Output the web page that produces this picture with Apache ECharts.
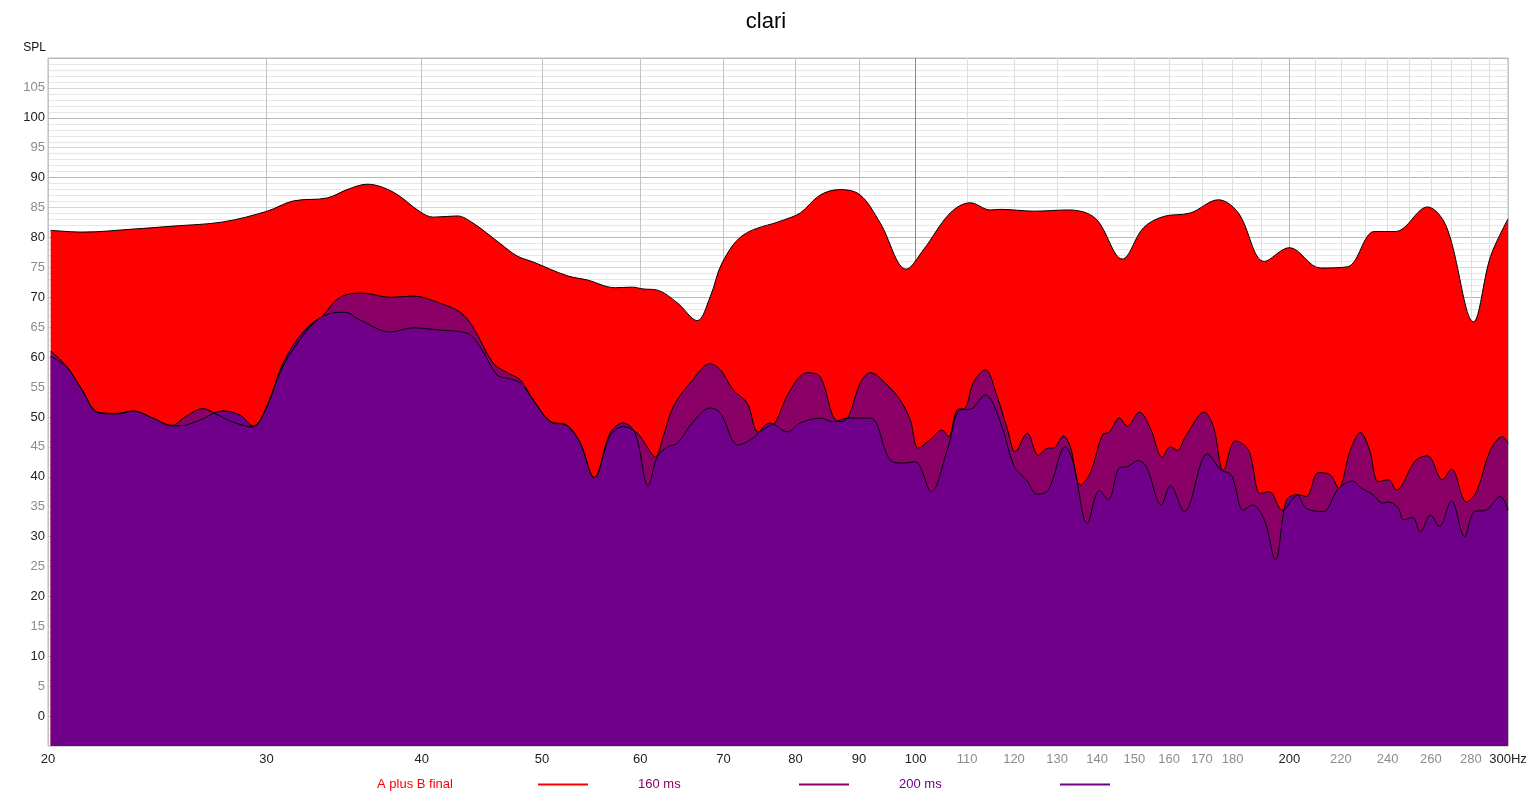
<!DOCTYPE html>
<html>
<head>
<meta charset="utf-8">
<title>clari</title>
<script src="https://cdn.jsdelivr.net/npm/echarts@6.0.0/dist/echarts.min.js"></script>
<style>
  html, body { margin: 0; padding: 0; background: #fff; }
  #chart { width: 1532px; height: 799px; }
</style>
</head>
<body>
<div id="chart"></div>
<script>
// Frequency response (Hz, dB SPL)
var abHz = [20.1, 21.34, 23.42, 25.22, 27.67, 30.03, 31.51, 33.56, 34.83, 36.15, 37.93, 39.88, 40.86, 42.72, 44.0,
	46.26, 47.75, 49.19, 52.39, 54.37, 57.27, 59.1, 60.32, 61.91, 64.25, 66.68, 68.31, 69.85, 72.62, 78.22,
	80.72, 83.77, 86.94, 90.23, 93.64, 98.27, 101.41, 106.62, 110.66, 114.84, 116.99, 124.61, 132.72, 139.54,
	146.71, 152.54, 158.3, 166.44, 175.31, 181.94, 190.93, 200, 211.84, 222.72, 234.17, 243.47, 258.37,
	267.64, 281.38, 290.4, 300];
var abSpl = [81.2, 80.9, 81.4, 81.9, 82.6, 84.4, 86.1, 86.6, 88.0, 88.9, 87.6, 84.3, 83.4, 83.6, 82.4,
	79.0, 76.9, 75.9, 73.6, 72.9, 71.6, 71.7, 71.4, 71.2, 69.1, 66.1, 70.1, 75.8, 80.4, 82.9,
	84.1, 87.1, 88.0, 87.1, 82.4, 74.7, 77.9, 84.1, 85.8, 84.6, 84.7, 84.4, 84.6, 83.2,
	76.4, 81.6, 83.5, 84.1, 86.3, 84.1, 76.0, 78.3, 74.9, 75.1, 81.0, 81.0, 85.1,
	81.8, 65.9, 76.8, 83.1];

var ms160Hz = [20.1, 20.72, 21.3, 21.94, 22.73, 23.42, 24.3, 25.17, 25.79, 26.66, 27.37, 28.14, 29.26, 29.92,
	30.93, 32.34, 33.31, 34.38, 35.88, 37.72, 39.37, 41.39, 42.96, 44.0, 45.67, 46.87, 48.01, 49.19, 50.76,
	52.39, 53.67, 55.08, 56.74, 58.12, 59.65, 60.55, 61.68, 62.6, 63.78, 65.82, 68.31, 69.59, 71.29, 73.16,
	74.67, 76.35, 77.06, 79.24, 81.78, 83.77, 85.82, 86.94, 88.24, 90.23, 91.92, 94.86, 97.18, 99.0,
	100.48, 102.74, 105.05, 106.23, 108.02, 109.63, 111.27, 113.78, 116.34, 118.52, 120.29, 123.0, 125.54,
	127.89, 129.08, 131.5, 133.21, 135.71, 138.25, 141.36, 143.21, 145.89, 148.07, 151.41, 154.53, 158.01,
	160.37, 162.47, 164.9, 170.81, 173.69, 176.94, 180.93, 185.35, 189.52, 192.71, 197.41, 203.37, 206.41,
	211.06, 215.81, 219.04, 223.97, 228.16, 232.0, 235.91, 240.33, 243.92, 252.68, 258.37, 265.66, 270.13,
	277.75, 282.96, 290.4, 296.94, 300];
var ms160Spl = [61.0, 58.4, 54.6, 50.8, 50.6, 51.0, 49.8, 48.6, 50.0, 51.4, 50.4, 49.2, 48.3, 51.2,
	58.5, 64.5, 67.0, 70.0, 70.7, 70.0, 70.2, 69.0, 67.5, 65.0, 59.0, 57.4, 56.2, 52.9, 49.3,
	48.6, 45.7, 39.9, 46.8, 48.4, 47.3, 45.5, 43.3, 46.7, 51.7, 55.7, 58.9, 57.9, 54.5, 52.3,
	47.5, 48.6, 49.0, 54.5, 57.4, 56.7, 50.0, 49.2, 50.0, 55.7, 57.4, 55.3, 52.8, 49.5,
	44.8, 46.2, 47.8, 46.7, 51.2, 51.5, 55.7, 57.9, 53.3, 48.0, 44.2, 47.3, 43.6,
	44.8, 44.8, 46.8, 45.0, 38.6, 40.6, 47.0, 47.5, 49.8, 48.5, 50.8, 48.1, 43.3,
	45.0, 44.4, 46.7, 50.8, 48.4, 41.1, 46.0, 44.5, 37.2, 37.5, 34.4, 37.0, 36.7,
	40.7, 40.3, 38.1, 44.5, 47.4, 44.5, 39.2, 39.5, 37.8, 42.7, 43.5, 39.5, 41.3,
	35.8, 37.5, 44.5, 46.7, 45.6];

var ms200Hz = [20.1, 20.72, 21.3, 21.94, 22.73, 23.42, 24.3, 25.17, 25.55, 26.52, 27.67, 28.56, 29.26, 30.03,
	30.93, 32.34, 33.94, 34.7, 35.68, 37.72, 39.37, 41.39, 43.52, 44.58, 46.01, 46.87, 48.01, 49.19, 50.76,
	52.39, 53.67, 55.08, 56.74, 58.12, 59.43, 60.88, 61.91, 63.07, 64.25, 66.19, 68.31, 69.59, 71.95, 73.98,
	76.35, 78.8, 80.72, 83.77, 85.82, 88.08, 91.92, 95.39, 97.72, 99.92, 102.93, 106.03, 108.62, 110.66,
	113.78, 116.99, 120.07, 122.77, 125.3, 127.89, 131.98, 133.96, 137.48, 140.58, 142.95, 145.89, 148.07,
	151.13, 153.39, 157.72, 160.37, 164.59, 171.77, 176.29, 179.59, 183.63, 186.73, 190.93, 194.87, 198.88,
	202.61, 206.41, 213.02, 218.63, 224.8, 228.59, 232.87, 238.11, 240.33, 244.83, 247.11, 251.27, 255.03,
	259.81, 264.18, 270.13, 276.73, 281.91, 287.72, 295.84, 300];
var ms200Spl = [60.2, 58.2, 54.5, 50.7, 50.5, 51.0, 49.8, 48.5, 48.5, 49.5, 51.0, 50.3, 48.5, 51.7,
	59.0, 64.9, 67.4, 67.5, 66.2, 64.2, 64.9, 64.5, 64.0, 61.7, 57.0, 56.5, 55.7, 52.8, 49.2,
	48.5, 45.6, 39.8, 47.3, 49.0, 47.3, 38.5, 43.3, 45.0, 45.6, 49.2, 51.5, 50.7, 45.3, 46.5,
	49.0, 47.5, 49.0, 49.8, 49.2, 49.8, 49.8, 42.8, 42.3, 42.5, 37.5, 44.5, 51.2, 51.3,
	53.7, 49.2, 41.7, 39.5, 37.1, 37.8, 45.0, 42.3, 32.2, 37.7, 36.2, 41.5, 41.7,
	42.7, 41.7, 35.3, 38.5, 34.2, 43.8, 41.1, 40.3, 34.4, 35.3, 32.8, 26.1, 36.1,
	37.0, 34.7, 34.2, 37.8, 39.3, 38.1, 37.2, 35.6, 35.8, 34.7, 32.8, 33.2, 30.8,
	33.6, 31.7, 36.0, 30.0, 34.2, 34.4, 36.7, 34.4];

var seriesNames = ['A plus B final', '160 ms', '200 ms'];
var seriesColors = ['#ff0000', '#8b0066', '#70008a'];

// Axis ticks
var xGridHz = [20, 30, 40, 50, 60, 70, 80, 90, 100, 110, 120, 130, 140, 150, 160, 170, 180, 190,
	200, 210, 220, 230, 240, 250, 260, 270, 280, 290, 300];
var xLabelHz = [20, 30, 40, 50, 60, 70, 80, 90, 100, 110, 120, 130, 140, 150, 160, 170, 180,
	200, 220, 240, 260, 280, 300];

var FONT = '"Liberation Sans", Arial, Helvetica, sans-serif';

function pairs( hz, spl ) {
	var out = [];
	for ( var i = 0; i < hz.length; i++ ) {
		out.push( [hz[i], spl[i]] );
	}
	return out;
}

// darker rule at the "round" frequencies, pale in between
function isMajorHz( f ) {
	return f <= 100 || f === 200 || f === 300;
}
var xGridColors = xGridHz.map( function ( f ) {
	if ( f === 100 ) return '#8a8a8a';
	if ( f === 200 ) return '#b4b4b4';
	return isMajorHz( f ) ? '#c4c4c4' : '#dedede';
} );

var chart = echarts.init( document.getElementById( 'chart' ), null, { renderer: 'canvas' } );

var series = [
	pairs( abHz, abSpl ),
	pairs( ms160Hz, ms160Spl ),
	pairs( ms200Hz, ms200Spl )
].map( function ( data, i ) {
	return {
		name: seriesNames[i],
		type: 'line',
		data: data,
		smooth: 0.35,
		symbol: 'none',
		showSymbol: false,
		silent: true,
		color: seriesColors[i],
		lineStyle: { color: '#000', width: 1 },
		itemStyle: { color: seriesColors[i] },
		areaStyle: { color: seriesColors[i], opacity: 1, origin: 'start' },
		emphasis: { disabled: true }
	};
} );

var richLegend = {};
seriesColors.forEach( function ( c, i ) {
	richLegend['s' + i] = { color: c, width: 156, align: 'left', fontSize: 13, fontFamily: FONT };
} );

var option = {
	animation: false,
	backgroundColor: '#fff',
	title: {
		text: 'clari',
		left: 'center',
		top: 6,
		textStyle: { fontSize: 22, fontWeight: 'normal', color: '#000', fontFamily: FONT }
	},
	legend: {
		left: 372,
		top: 773,
		align: 'right',
		orient: 'horizontal',
		itemWidth: 50,
		itemHeight: 2,
		itemGap: 50,
		selectedMode: false,
		formatter: function ( name ) {
			return '{s' + seriesNames.indexOf( name ) + '|' + name + '}';
		},
		textStyle: { fontSize: 13, fontFamily: FONT, rich: richLegend },
		data: seriesNames.map( function ( n, i ) {
			return {
				name: n,
				icon: 'rect',
				itemStyle: { color: seriesColors[i] },
				lineStyle: { color: seriesColors[i], width: 2 }
			};
		} )
	},
	grid: {
		left: 48,
		right: 24,
		top: 58,
		bottom: 53,
		show: true,
		borderColor: '#bbbbbb',
		borderWidth: 1,
		backgroundColor: '#fff'
	},
	xAxis: {
		type: 'log',
		logBase: 10,
		min: 20,
		max: 300,
		axisLine: { show: false },
		axisTick: { show: false, customValues: xGridHz },
		axisLabel: {
			customValues: xLabelHz,
			margin: 7,
			fontSize: 13,
			fontFamily: FONT,
			formatter: function ( v ) {
				var f = Math.round( v );
				return f === 300 ? '300Hz' : String( f );
			},
			color: function ( v ) {
				return isMajorHz( Math.round( v ) ) ? '#222' : '#8c8c8c';
			}
		},
		splitLine: { show: true, lineStyle: { color: xGridColors, width: 1 } },
		minorSplitLine: { show: false }
	},
	yAxis: {
		type: 'value',
		min: -5,
		max: 110,
		interval: 5,
		name: 'SPL',
		nameLocation: 'end',
		nameGap: 4,
		nameTextStyle: { color: '#111', fontSize: 12, fontFamily: FONT, align: 'right', padding: [0, 2, 0, 0] },
		axisLine: { show: false },
		axisTick: { show: false },
		axisLabel: {
			margin: 3,
			fontSize: 13,
			fontFamily: FONT,
			formatter: function ( v ) {
				return ( v < 0 || v > 105 ) ? '' : String( v );
			},
			color: function ( v ) {
				return ( v % 10 === 0 ) ? '#222' : '#8c8c8c';
			}
		},
		splitLine: { show: true, lineStyle: { color: ['#d4d4d4', '#b8b8b8'], width: 1 } },
		minorTick: { show: false, splitNumber: 5 },
		minorSplitLine: { show: true, lineStyle: { color: '#e6e6e6', width: 1 } }
	},
	series: series
};

chart.setOption( option );
</script>
</body>
</html>
